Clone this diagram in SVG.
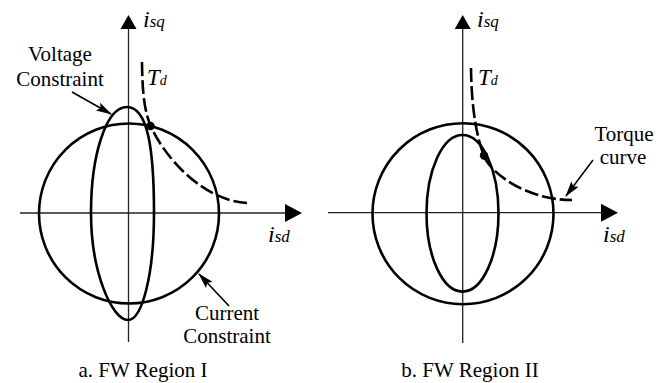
<svg xmlns="http://www.w3.org/2000/svg" width="670" height="383" viewBox="0 0 670 383">
<style>
.ax{stroke:#222;stroke-width:1.3;fill:none}
.cv{stroke:#000;stroke-width:2.6;fill:none}
.tq{stroke:#000;stroke-width:2.6;fill:none;stroke-dasharray:14 4}
.ld{stroke:#000;stroke-width:1.6;fill:none;marker-end:url(#ah)}
.lb{font-family:"Liberation Serif","Times New Roman",serif;font-size:21px;fill:#000;text-anchor:middle}
.it{font-family:"Liberation Serif","Times New Roman",serif;font-style:italic;fill:#000}
</style>
<defs>
<marker id="ah" markerUnits="userSpaceOnUse" markerWidth="16" markerHeight="9" refX="15" refY="4.5" orient="auto">
<path d="M0,0 L16,4.5 L0,9 L3,4.5 z" fill="#000"/>
</marker>
</defs>
<rect width="670" height="383" fill="#fff"/>
<g id="connectors">
<g id="axes-a">
<line class="ax" x1="128.5" y1="342" x2="128.5" y2="24"/>
<polygon points="128.5,15 120.5,29 136.5,29" fill="#000"/>
<line class="ax" x1="20" y1="213" x2="292" y2="213"/>
<polygon points="302,213 285,204 285,222" fill="#000"/>
</g>
<g id="axes-b">
<line class="ax" x1="462.7" y1="343" x2="462.7" y2="24"/>
<polygon points="462.7,15 454.7,29 470.7,29" fill="#000"/>
<line class="ax" x1="328" y1="212.7" x2="608" y2="212.7"/>
<polygon points="618,212.7 601,203.7 601,221.7" fill="#000"/>
</g>
<line class="ld" x1="72" y1="92" x2="111" y2="114"/>
<line class="ld" x1="229" y1="306" x2="199" y2="274"/>
<line class="ld" x1="593" y1="160" x2="566" y2="196"/>
</g>
<g id="current-constraint-a"><circle class="cv" cx="129" cy="213.5" r="90"/></g>
<g id="voltage-constraint-a"><path class="cv" d="M127,107 C148,107 154,150 154,213 C154,275 142,320 128,320 C112,320 91,272 91,213 C91,155 106,107 127,107 Z"/></g>
<g id="torque-a"><path class="tq" d="M142,62 C142.3,95 145,113 150.7,126 C163,154 200,200 247,203"/>
<circle cx="150.5" cy="126" r="4.2" fill="#000"/></g>
<g id="current-constraint-b"><circle class="cv" cx="463" cy="213.7" r="90.5"/></g>
<g id="voltage-constraint-b"><ellipse class="cv" cx="462.5" cy="213.3" rx="36" ry="78.3"/></g>
<g id="torque-b"><path class="tq" d="M471,68 C471.5,110 477,138 484,156 C490,172 525,200 572,200"/>
<circle cx="484" cy="155.5" r="4.2" fill="#000"/></g>
<g id="labels">
<text class="lb" x="60" y="60.5">Voltage</text>
<text class="lb" x="60" y="85.5">Constraint</text>
<text class="lb" x="227" y="320">Current</text>
<text class="lb" x="227" y="343">Constraint</text>
<text class="lb" x="624" y="141">Torque</text>
<text class="lb" x="623" y="164">curve</text>
<text class="lb" x="143" y="377">a. FW Region I</text>
<text class="lb" x="470" y="377">b. FW Region II</text>
<text class="it" x="143" y="27"><tspan font-size="24">i</tspan><tspan font-size="17">sq</tspan></text>
<text class="it" x="477" y="27"><tspan font-size="24">i</tspan><tspan font-size="17">sq</tspan></text>
<text class="it" x="268" y="242"><tspan font-size="24">i</tspan><tspan font-size="17">sd</tspan></text>
<text class="it" x="603" y="242"><tspan font-size="24">i</tspan><tspan font-size="17">sd</tspan></text>
<text class="it" x="147" y="85"><tspan font-size="23">T</tspan><tspan font-size="14">d</tspan></text>
<text class="it" x="478" y="85"><tspan font-size="23">T</tspan><tspan font-size="14">d</tspan></text>
</g>
</svg>
